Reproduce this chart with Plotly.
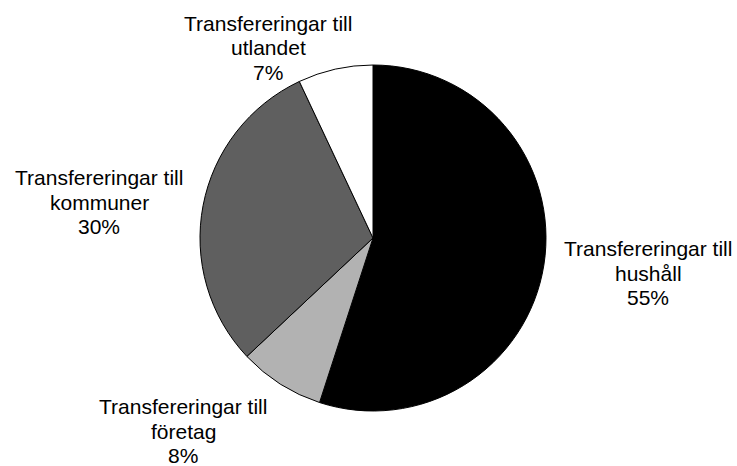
import plotly.graph_objects as go

# Data
categories = ["Transfereringar till hushåll", "Transfereringar till företag",
              "Transfereringar till kommuner", "Transfereringar till utlandet"]
label_lines = [["Transfereringar till", "hushåll"],
               ["Transfereringar till", "företag"],
               ["Transfereringar till", "kommuner"],
               ["Transfereringar till", "utlandet"]]
values = [55, 8, 30, 7]
colors = ["#000000", "#b2b2b2", "#5f5f5f", "#ffffff"]

W, H = 737, 466
cx, cy, r = 373, 238, 173

fig = go.Figure(go.Pie(
    labels=categories,
    values=values,
    sort=False,
    direction="clockwise",
    rotation=0,
    textinfo="none",
    hoverinfo="label+percent",
    marker=dict(colors=colors, line=dict(color="#000000", width=1)),
    domain=dict(x=[(cx - r) / W, (cx + r) / W], y=[1 - (cy + r) / H, 1 - (cy - r) / H]),
    showlegend=False,
))

# label block centres (pixels) – layout only
label_pos = [(648, 273), (183, 431), (99, 202), (268, 48)]
line_gap = 24.5
total = sum(values)
annotations = []
for lines, v, (px, py) in zip(label_lines, values, label_pos):
    all_lines = lines + [f"{round(100 * v / total)}%"]
    n = len(all_lines)
    for i, t in enumerate(all_lines):
        yy = py + (i - (n - 1) / 2) * line_gap
        annotations.append(dict(
            x=px / W, y=1 - yy / H, xref="paper", yref="paper",
            text=t, showarrow=False, xanchor="center", yanchor="middle",
            font=dict(family="Liberation Sans, Arial, sans-serif", size=21, color="#000000"),
        ))

fig.update_layout(
    width=W, height=H,
    margin=dict(l=0, r=0, t=0, b=0),
    paper_bgcolor="#ffffff",
    plot_bgcolor="#ffffff",
    annotations=annotations,
)

fig.write_html("out.html",
               config={"displayModeBar": False},
               post_script="document.body.style.margin='0';document.body.style.overflow='hidden';")
